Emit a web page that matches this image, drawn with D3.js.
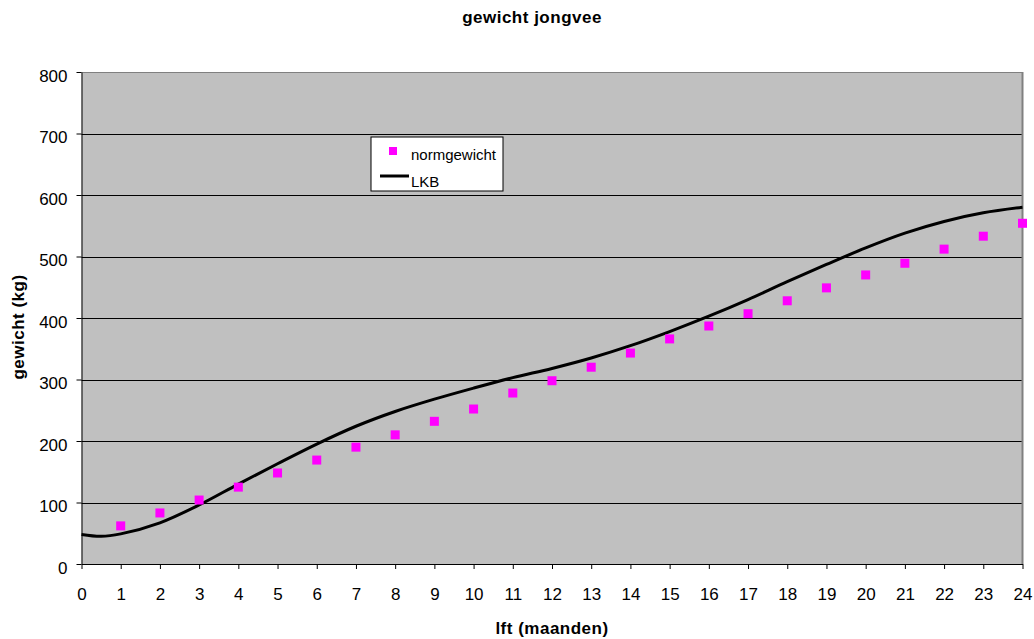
<!DOCTYPE html>
<html><head><meta charset="utf-8">
<script src="https://cdn.jsdelivr.net/npm/d3@7"></script>
<style>body{margin:0;background:#fff;font-family:"Liberation Sans",Arial,sans-serif}</style>
</head><body><svg id="c" width="1034" height="639"></svg>
<script>
const months = d3.range(1, 25);
const normgewicht = [62,83,104,125,148,169,190,210,232,252,278,298,320,343,366,387,407,428,449,470,489,512,533,554];
const lkbX = [0,0.5,1,2,3,4,5,6,7,8,9,10,11,12,13,14,15,16,17,18,19,20,21,22,23,24];
const lkbY = [48,45,49,67,96,130,163,195,224,248,268,286,303,318,335,355,378,403,430,459,487,514,538,557,571,580];
const xTicks = d3.range(0, 25);
const yTicks = [0,100,200,300,400,500,600,700,800];

const svg = d3.select("#c");
const L = 81.5, R = 1022.5, T = 72, B = 564;
const x = d3.scaleLinear().domain([0,24]).range([L,R]);
const y = d3.scaleLinear().domain([0,800]).range([B,T]);

svg.append("rect").attr("x",L).attr("y",T).attr("width",R-L).attr("height",B-T).attr("fill","#C0C0C0");
svg.append("g").selectAll("line").data(yTicks.filter(d=>d>0)).join("line")
  .attr("x1",L).attr("x2",R).attr("y1",d=>Math.round(y(d))+0.5).attr("y2",d=>Math.round(y(d))+0.5)
  .attr("stroke",d=>d===800?"#808080":"#000").attr("stroke-width",1);
svg.append("line").attr("x1",R).attr("x2",R).attr("y1",T).attr("y2",B).attr("stroke","#808080").attr("stroke-width",2);

const ya = svg.append("g").attr("transform",`translate(${L},0)`)
  .call(d3.axisLeft(y).tickValues(yTicks).tickSize(5).tickPadding(9).tickSizeOuter(0));
ya.selectAll("text").attr("dy","0.55em");
const xa = svg.append("g").attr("transform",`translate(0,${B})`)
  .call(d3.axisBottom(x).tickValues(xTicks).tickSize(5).tickPadding(19).tickSizeOuter(0));
[ya,xa].forEach(a=>{a.selectAll("text").attr("font-size",17).attr("font-family","Liberation Sans, Arial").attr("fill","#000");
  a.selectAll("line,path").attr("stroke","#000");});

const line = d3.line().x(d=>x(d[0])).y(d=>y(d[1])).curve(d3.curveCatmullRom);
svg.append("path").datum(lkbX.map((v,i)=>[v,lkbY[i]])).attr("d",line)
  .attr("fill","none").attr("stroke","#000").attr("stroke-width",3);

svg.append("g").selectAll("rect").data(months).join("rect")
  .attr("x",(d)=>x(d)-4.5).attr("y",(d,i)=>y(normgewicht[i])-4.5).attr("width",9).attr("height",9).attr("fill","#FF00FF");

const lg = svg.append("g");
lg.append("rect").attr("x",371).attr("y",137).attr("width",132).attr("height",54).attr("fill","#fff").attr("stroke","#000");
lg.append("rect").attr("x",389).attr("y",147).attr("width",8).attr("height",8).attr("fill","#FF00FF");
lg.append("text").attr("x",411).attr("y",160).text("normgewicht").attr("font-size",15);
lg.append("line").attr("x1",380).attr("x2",409).attr("y1",176).attr("y2",176).attr("stroke","#000").attr("stroke-width",3);
lg.append("text").attr("x",411).attr("y",187).text("LKB").attr("font-size",15);

svg.append("text").attr("x",532).attr("y",23).attr("text-anchor","middle").attr("font-weight","bold").attr("font-size",17).attr("letter-spacing",0.5).text("gewicht jongvee");
svg.append("text").attr("x",552).attr("y",634).attr("text-anchor","middle").attr("font-weight","bold").attr("font-size",17).attr("letter-spacing",0.5).text("lft (maanden)");
svg.append("text").attr("transform","translate(24,327) rotate(-90)").attr("text-anchor","middle").attr("font-weight","bold").attr("font-size",17).attr("letter-spacing",0.5).text("gewicht (kg)");
</script></body></html>
